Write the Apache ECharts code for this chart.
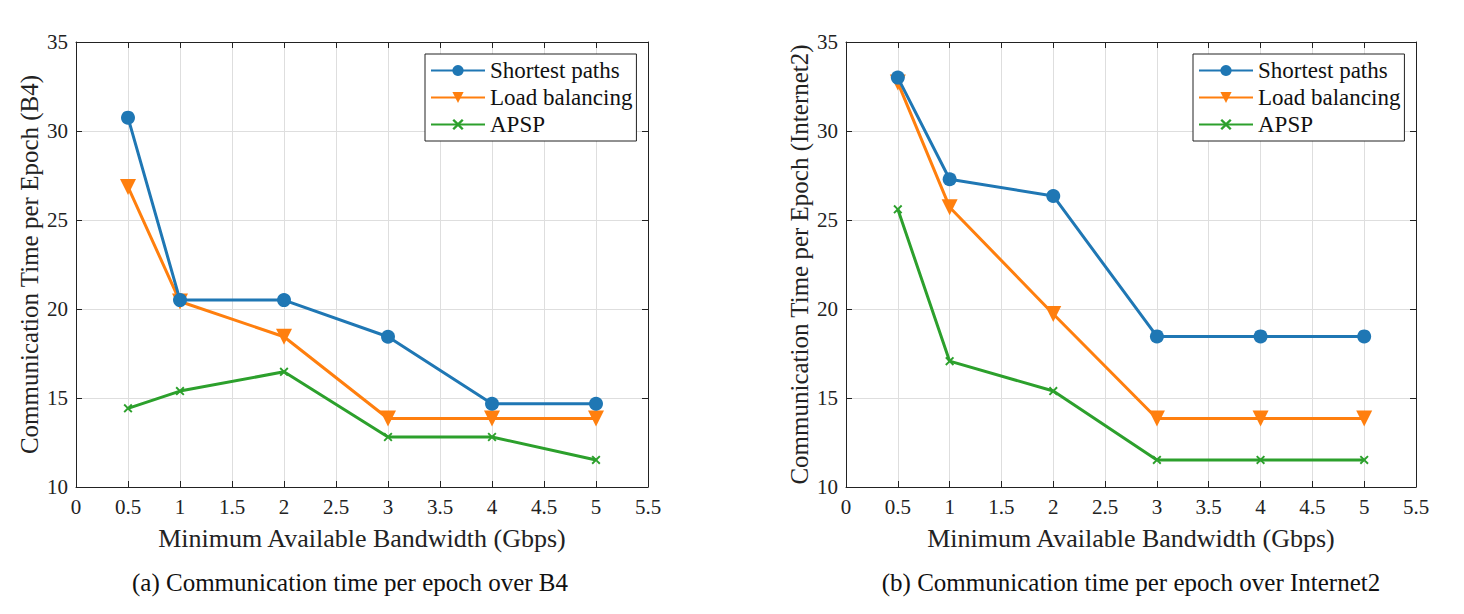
<!DOCTYPE html>
<html>
<head>
<meta charset="utf-8">
<script src="https://cdn.jsdelivr.net/npm/echarts@6/dist/echarts.min.js"></script>
<style>
html,body{margin:0;padding:0;background:#fff;}
#c{width:1464px;height:614px;}
</style>
</head>
<body>
<div id="c"></div>
<script>
// ---- data ----
const bandwidth = [0.5, 1, 2, 3, 4, 5];
const seriesNames = ['Shortest paths', 'Load balancing', 'APSP'];
const b4Shortest = [30.75, 20.5, 20.5, 18.44, 14.68, 14.68];
const b4Load = [26.86, 20.42, 18.44, 13.85, 13.85, 13.85];
const b4Apsp = [14.42, 15.39, 16.47, 12.81, 12.81, 11.52];
const i2Shortest = [33.0, 27.29, 26.35, 18.46, 18.46, 18.46];
const i2Load = [32.72, 25.72, 19.72, 13.85, 13.85, 13.85];
const i2Apsp = [25.6, 17.07, 15.39, 11.52, 11.52, 11.52];
const xTicks = {min: 0, max: 5.5, interval: 0.5};
const yTicks = {min: 10, max: 35, interval: 5};
const yNames = ['Communication Time per Epoch (B4)', 'Communication Time per Epoch (Internet2)'];
const xName = 'Minimum Available Bandwidth (Gbps)';
const captions = ['(a) Communication time per epoch over B4', '(b) Communication time per epoch over Internet2'];

// ---- style ----
const colors = ['#1f77b4', '#ff7f0e', '#2ca02c'];
const FONT = '"Liberation Serif", "DejaVu Serif", serif';
const crossPath = 'path://M0,1.5 L1.5,0 L5,3.5 L8.5,0 L10,1.5 L6.5,5 L10,8.5 L8.5,10 L5,6.5 L1.5,10 L0,8.5 L3.5,5 Z';
const symbols = ['circle', 'triangle', crossPath];
const symSizes = [14, 16, 9];
const symRot = [0, 180, 0];

const grids = [
  {left: 76, top: 42, width: 572, height: 445},
  {left: 846, top: 42, width: 570, height: 445}
];
const datasets = [[b4Shortest, b4Load, b4Apsp], [i2Shortest, i2Load, i2Apsp]];

const xAxes = [], yAxes = [], series = [];
grids.forEach((g, gi) => {
  xAxes.push({
    gridIndex: gi, type: 'value', position: 'bottom',
    min: xTicks.min, max: xTicks.max, interval: xTicks.interval,
    name: xName, nameLocation: 'middle', nameGap: 38,
    nameTextStyle: {fontFamily: FONT, fontSize: 26, color: '#222'},
    axisLine: {show: true, onZero: false, lineStyle: {color: '#222', width: 1}},
    axisTick: {show: true, inside: true, length: 6, lineStyle: {color: '#222'}},
    axisLabel: {fontFamily: FONT, fontSize: 21, color: '#222', margin: 9},
    splitLine: {show: true, lineStyle: {color: '#dedede', width: 1}}
  });
  xAxes.push({
    gridIndex: gi, type: 'value', position: 'top',
    min: xTicks.min, max: xTicks.max, interval: xTicks.interval,
    axisLine: {show: true, onZero: false, lineStyle: {color: '#222', width: 1}},
    axisTick: {show: true, inside: true, length: 6, lineStyle: {color: '#222'}},
    axisLabel: {show: false}, splitLine: {show: false}
  });
  yAxes.push({
    gridIndex: gi, type: 'value', position: 'left',
    min: yTicks.min, max: yTicks.max, interval: yTicks.interval,
    name: yNames[gi], nameLocation: 'middle', nameGap: 34, nameRotate: 90,
    nameTextStyle: {fontFamily: FONT, fontSize: 25, color: '#222'},
    axisLine: {show: true, onZero: false, lineStyle: {color: '#222', width: 1}},
    axisTick: {show: true, inside: true, length: 6, lineStyle: {color: '#222'}},
    axisLabel: {fontFamily: FONT, fontSize: 21, color: '#222', margin: 8},
    splitLine: {show: true, lineStyle: {color: '#dedede', width: 1}}
  });
  yAxes.push({
    gridIndex: gi, type: 'value', position: 'right',
    min: yTicks.min, max: yTicks.max, interval: yTicks.interval,
    axisLine: {show: true, onZero: false, lineStyle: {color: '#222', width: 1}},
    axisTick: {show: true, inside: true, length: 6, lineStyle: {color: '#222'}},
    axisLabel: {show: false}, splitLine: {show: false}
  });
  datasets[gi].forEach((vals, si) => {
    series.push({
      name: seriesNames[si], type: 'line',
      xAxisIndex: gi * 2, yAxisIndex: gi * 2,
      data: bandwidth.map((b, k) => [b, vals[k]]),
      symbol: symbols[si], symbolSize: symSizes[si], symbolRotate: symRot[si],
      showAllSymbol: true,
      lineStyle: {color: colors[si], width: 3},
      itemStyle: {color: colors[si], borderWidth: 0},
      z: 3 + (2 - si),
      animation: false
    });
  });
});

const legendBase = {
  data: seriesNames, orient: 'vertical', top: 54,
  itemWidth: 54, itemHeight: 14, itemGap: 4,
  padding: [5, 4, 5, 5],
  borderColor: '#222', borderWidth: 1, backgroundColor: '#fff',
  textStyle: {fontFamily: FONT, fontSize: 23, color: '#111', lineHeight: 23},
  selectedMode: false
};

const chart = echarts.init(document.getElementById('c'), null, {renderer: 'svg'});
chart.setOption({
  animation: false,
  backgroundColor: '#fff',
  color: colors,
  grid: grids,
  xAxis: xAxes,
  yAxis: yAxes,
  legend: [
    Object.assign({}, legendBase, {left: 425}),
    Object.assign({}, legendBase, {left: 1193})
  ],
  graphic: [
    {type: 'text', x: 350, y: 582, style: {text: captions[0], fontFamily: FONT, fontSize: 25, fill: '#111', textAlign: 'center', textVerticalAlign: 'middle'}},
    {type: 'text', x: 1131, y: 582, style: {text: captions[1], fontFamily: FONT, fontSize: 25, fill: '#111', textAlign: 'center', textVerticalAlign: 'middle'}}
  ],
  series: series
});
</script>
</body>
</html>
